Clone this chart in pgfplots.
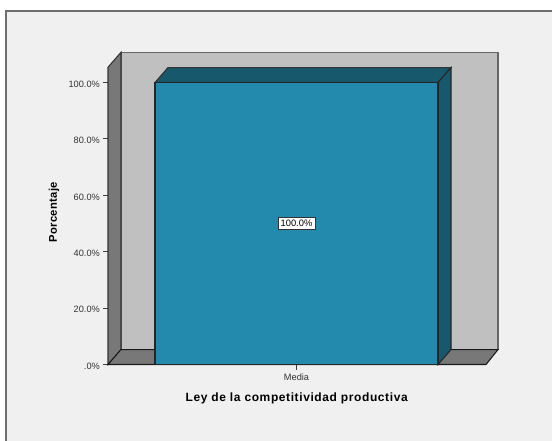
\documentclass[border=0pt]{standalone}
\usepackage{fontspec}
\setmainfont{Liberation Sans}
\usepackage{pgfplots}
\pgfplotsset{compat=1.18}
\definecolor{bgc}{RGB}{240,240,240}
\definecolor{wallc}{RGB}{192,192,192}
\definecolor{sidec}{RGB}{120,120,120}
\definecolor{barf}{RGB}{35,137,173}
\definecolor{bard}{RGB}{24,88,108}
\begin{document}
\begin{tikzpicture}[x=0.75pt,y=0.75pt]
\begin{axis}[
  name=back, at={(0,0)}, anchor=south west,
  scale only axis, width=414pt, height=330.75pt,
  xmin=0, xmax=552, ymin=0, ymax=441,
  hide axis, clip=true]
\addplot[fill=white,draw=none] coordinates {(0,0)(552,0)(552,441)(0,441)} --cycle;
\addplot[fill=bgc,draw={rgb,255:red,110;green,110;blue,110},line width=1pt] coordinates {(6,-10)(565,-10)(565,430)(6,430)} --cycle;
\end{axis}
\begin{axis}[
  at={(81pt,57.375pt)}, anchor=south west,
  scale only axis, width=283.5pt, height=211.5pt,
  xmin=108, xmax=486, ymin=0, ymax=100,
  clip=false,
  axis line style={draw=none},
  axis x line*=bottom, axis y line*=left,
  xtick={296.5}, xticklabels={Media},
  ytick={0,20,40,60,80,100},
  yticklabels={.0\%,20.0\%,40.0\%,60.0\%,80.0\%,100.0\%},
  tick align=outside,
  tick style={draw=black!75,line width=0.6pt},
  major tick length=3.8pt,
  tick label style={font=\fontsize{6.9pt}{8pt}\selectfont,text=black!80},
  yticklabel style={xshift=1.2pt,yshift=-1.2pt},
  xticklabel style={yshift=0.6pt},
  xlabel={\addfontfeatures{LetterSpace=5}\textbf{Ley de la competitividad productiva}},
  ylabel={\addfontfeatures{LetterSpace=3}\textbf{Porcentaje}},
  xlabel style={font=\fontsize{9pt}{10pt}\selectfont,at={(axis description cs:0.5,-0.119)},anchor=center},
  ylabel style={font=\fontsize{8.4pt}{9pt}\selectfont,at={(axis description cs:-0.143,0.54)},anchor=center},
]
% back wall
\addplot[fill=wallc,draw=black!60,line width=0.9pt] coordinates {(121,5.3)(498,5.3)(498,110.7)(121,110.7)} --cycle;
% left wall
\addplot[fill=sidec,draw=black!80,line width=0.8pt] coordinates {(108,0)(121,5.3)(121,110.7)(108,105.4)} --cycle;
% floor
\addplot[fill=sidec,draw=black!90,line width=0.8pt] coordinates {(108,0)(486,0)(498,5.3)(121,5.3)} --cycle;
% bar top and side
\addplot[fill=bard,draw=black!80,line width=0.8pt] coordinates {(155,100)(438,100)(451,105.3)(168,105.3)} --cycle;
\addplot[fill=bard,draw=black!85,line width=0.8pt] coordinates {(438,0)(451,5.3)(451,105.3)(438,100)} --cycle;
% bar front
\addplot[fill=barf,draw=black!85,line width=0.8pt] coordinates {(155,0)(438,0)(438,100)(155,100)} --cycle;
\addplot[draw=none,nodes near coords={100.0\%},
  every node near coord/.style={anchor=center,fill=white,draw=black!80,line width=0.6pt,inner sep=2pt,font=\fontsize{7pt}{8pt}\selectfont}] coordinates {(296.5,50)};
\end{axis}
\end{tikzpicture}
\end{document}
